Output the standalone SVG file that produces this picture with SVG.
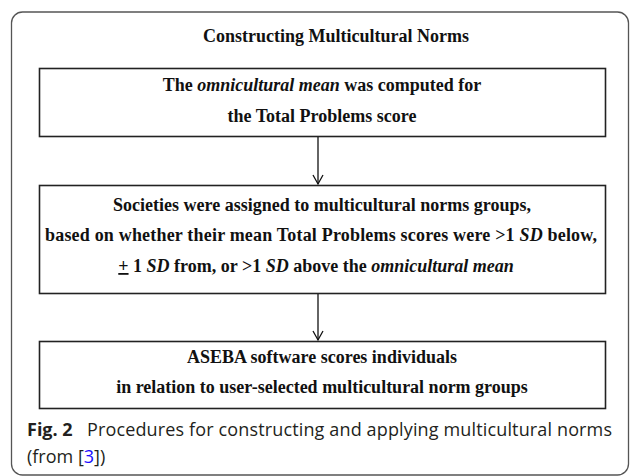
<svg xmlns="http://www.w3.org/2000/svg" width="630" height="476" viewBox="0 0 630 476">
<defs>
<style>
.frame{fill:none;stroke:#555;stroke-width:1.3}
.box{fill:#fff;stroke:#222;stroke-width:1.6}
.t{font-family:"Liberation Serif","Times New Roman",serif;font-weight:bold;font-size:18px;fill:#111;text-anchor:middle}
.i{font-style:italic}
.conn{stroke:#111;stroke-width:1.3;fill:none}
.cap{font-family:"Open Sans","Noto Sans",sans-serif;font-size:18px;fill:#231f20}
</style>
<marker id="arr" markerWidth="12" markerHeight="12" refX="10" refY="6" orient="auto" markerUnits="userSpaceOnUse">
<path d="M1,1 L10,6 L1,11" fill="none" stroke="#111" stroke-width="1.3"/>
</marker>
</defs>
<rect class="frame" x="11.5" y="12" width="617" height="463" rx="11"/>
<text class="t" x="336" y="42" font-size="17.6">Constructing Multicultural Norms</text>
<g id="node1">
<rect class="box" x="39.5" y="68.5" width="566" height="68"/>
<text class="t" x="322" y="91">The <tspan class="i">omnicultural mean</tspan> was computed for</text>
<text class="t" x="322" y="122">the Total Problems score</text>
</g>
<g id="node2">
<rect class="box" x="39.5" y="185.5" width="566" height="108"/>
<text class="t" x="322" y="211">Societies were assigned to multicultural norms groups,</text>
<text class="t" x="321" y="241" textLength="552">based on whether their mean Total Problems scores were &gt;1 <tspan class="i">SD</tspan> below,</text>
<text class="t" x="316" y="272"><tspan text-decoration="underline">+</tspan> 1 <tspan class="i">SD</tspan> from, or &gt;1 <tspan class="i">SD</tspan> above the <tspan class="i">omnicultural mean</tspan></text>
</g>
<g id="node3">
<rect class="box" x="39.5" y="341.5" width="566" height="67"/>
<text class="t" x="322" y="363">ASEBA software scores individuals</text>
<text class="t" x="322" y="393">in relation to user-selected multicultural norm groups</text>
</g>
<g id="connectors">
<line class="conn" x1="318" y1="137" x2="318" y2="184" marker-end="url(#arr)"/>
<line class="conn" x1="318" y1="294" x2="318" y2="340" marker-end="url(#arr)"/>
</g>
<text class="cap" x="27" y="436" font-weight="bold" font-size="19">Fig. 2</text>
<text class="cap" x="87" y="436" textLength="525">Procedures for constructing and applying multicultural norms</text>
<text class="cap" x="27" y="463">(from [<tspan fill="#1a0dff">3</tspan>])</text>
</svg>
